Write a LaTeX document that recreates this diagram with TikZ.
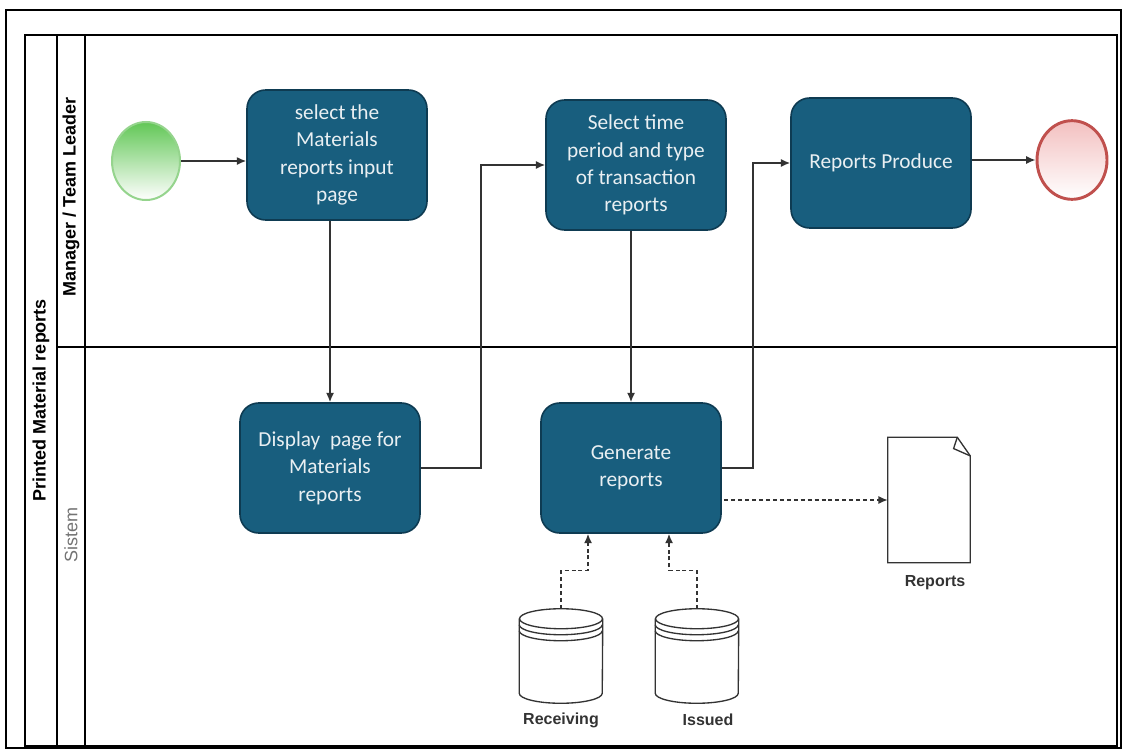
\documentclass[tikz,border=0pt]{standalone}
\usepackage{fontspec}
\setmainfont{Carlito}
\newfontfamily\lanefont{Liberation Sans}
\usetikzlibrary{arrows.meta,shapes.geometric}

\definecolor{taskfill}{HTML}{185E7E}
\definecolor{taskline}{HTML}{0E3B52}
\definecolor{tasktext}{HTML}{E9EFF2}
\definecolor{startgreen}{HTML}{62C756}
\definecolor{startline}{HTML}{95D48D}
\definecolor{endred}{HTML}{C0504D}
\definecolor{endpink}{HTML}{F3C0C0}
\definecolor{flowgray}{HTML}{333333}

\tikzset{
    task/.style={rectangle, rounded corners=14pt, draw=taskline, line width=1.2pt,
        fill=taskfill, text=tasktext, align=center, minimum width=135pt,
        minimum height=97.5pt, font=\fontsize{16}{20.5}\selectfont},
    startev/.style={ellipse, draw=startline, line width=1.5pt, top color=startgreen,
        bottom color=white, minimum width=51pt, minimum height=58.5pt},
    endev/.style={ellipse, draw=endred, line width=2.2pt, top color=endpink,
        bottom color=white, minimum width=52.5pt, minimum height=59pt},
    dbbox/.style={rectangle, inner sep=0pt, minimum width=62.25pt, minimum height=70.5pt},
    docbox/.style={rectangle, inner sep=0pt, minimum width=61.5pt, minimum height=93.75pt},
    flow/.style={draw=flowgray, line width=1.1pt, -{Latex[length=7pt,width=6pt]}},
    dataflow/.style={flow, dash pattern=on 3pt off 2.2pt},
    lanetitle/.style={rotate=90, font=\lanefont\bfseries\fontsize{13.5}{16}\selectfont},
    iconlabel/.style={font=\lanefont\bfseries\fontsize{12}{14}\selectfont, text=black!80}
}

\newcommand{\dbdraw}[1]{%
    \draw[line width=1pt, black!80] ([yshift=-7.5pt]#1.north west) -- ([yshift=7.5pt]#1.south west)
        arc[start angle=180, end angle=360, x radius=31.125pt, y radius=7.5pt]
        -- ([yshift=-7.5pt]#1.north east);
    \draw[line width=1pt, black!80] ([yshift=-7.5pt]#1.north) ellipse[x radius=31.125pt, y radius=7.5pt];
    \draw[line width=1pt, black!80] ([yshift=-12pt]#1.north west)
        arc[start angle=180, end angle=360, x radius=31.125pt, y radius=7.5pt];
    \draw[line width=1pt, black!80] ([yshift=-16.5pt]#1.north west)
        arc[start angle=180, end angle=360, x radius=31.125pt, y radius=7.5pt];
}

\begin{document}
\begin{tikzpicture}[x=0.75pt, y=0.75pt]
    \useasboundingbox (0,0) rectangle (1123,-749);

    \draw[line width=1pt] (6,-10) rectangle (1121,-748);
    \draw[line width=1.5pt] (25,-35) rectangle (1117,-746);
    \draw[line width=1.5pt] (57,-35) -- (57,-746);
    \draw[line width=1pt] (85,-35) -- (85,-746);
    \draw[line width=1.2pt] (57,-347) -- (1117,-347);

    \node[lanetitle] (pool) at (41,-400) {Printed Material reports};
    \node[lanetitle] (mgr) at (71,-197) {Manager / Team Leader};
    \node[lanetitle, font=\lanefont\fontsize{13.5}{16}\selectfont, text=black!55] (sys) at (71,-535) {Sistem};

    \node[startev] (start) at (146,-161) {};
    \node[endev] (end) at (1072,-160) {};

    \node[task] (task1) at (337,-155) {select the\\Materials\\reports input\\page};
    \node[task] (task2) at (636,-165) {Select time\\period and type\\of transaction\\reports};
    \node[task] (task3) at (881,-163) {Reports Produce};
    \node[task] (task4) at (330,-468) {Display\ \ page for\\Materials\\reports};
    \node[task] (task5) at (631,-468) {Generate\\reports};

    \node[docbox] (doc) at (929,-500) {};
    \draw[line width=1pt, black!80] (doc.north west) -- ([xshift=-9.75pt]doc.north east)
        -- ([yshift=-14pt]doc.north east) -- (doc.south east) -- (doc.south west) -- cycle;
    \draw[line width=1pt, black!80] ([xshift=-9.75pt]doc.north east) -- ([xshift=-12.5pt,yshift=-8.5pt]doc.north east)
        -- ([yshift=-14pt]doc.north east);
    \node[iconlabel] (doclabel) at (935,-583) {Reports};

    \node[dbbox] (recv) at (561,-656) {};
    \dbdraw{recv}
    \node[iconlabel] (recvlabel) at (561,-720) {Receiving};
    \node[dbbox] (issd) at (697,-656) {};
    \dbdraw{issd}
    \node[iconlabel] (issdlabel) at (708,-720) {Issued};

    \draw[flow] (start) -- (start -| task1.west);
    \draw[flow] (task4.north |- task1.south) -- (task4.north);
    \draw[flow] (task4.east) -- ++(60,0) |- (task2.west);
    \draw[flow] (task5.north |- task2.south) -- (task5.north);
    \draw[flow] (task5.east) -- ++(31,0) |- (task3.west);
    \draw[flow] (end.west -| task3.east) -- (end.west);
    \draw[dataflow] ([xshift=2pt]doc.west -| task5.east) -- (doc.west);
    \draw[dataflow] (recv.north) -- ++(0,38) -| ([xshift=-32.25pt]task5.south);
    \draw[dataflow] (issd.north) -- ++(0,38) -| ([xshift=28.5pt]task5.south);
\end{tikzpicture}
\end{document}
